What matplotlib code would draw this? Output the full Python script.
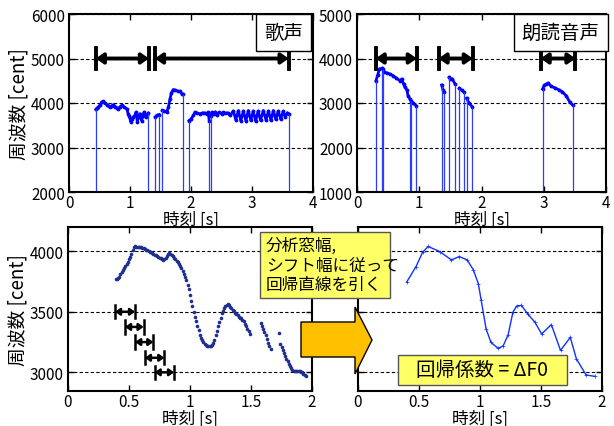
import numpy as np
import matplotlib
matplotlib.use("Agg")
import matplotlib.pyplot as plt
from matplotlib.patches import Rectangle, Polygon

plt.rcParams['font.family'] = ['Noto Sans CJK JP', 'DejaVu Sans']

# 歌声 F0 (有声区間ごと)
sing_t = [
    [0.44, 0.46, 0.48, 0.51, 0.535, 0.56, 0.59, 0.62, 0.65, 0.67, 0.70, 0.726, 0.76, 0.79, 0.81,
     0.84, 0.865, 0.90, 0.945, 0.97, 0.99, 1.01, 1.03, 1.05, 1.08, 1.10, 1.12, 1.14, 1.16, 1.19,
     1.21, 1.23, 1.26, 1.28, 1.30],
    [1.415, 1.44, 1.48],
    [1.53, 1.56, 1.60, 1.63, 1.656, 1.68, 1.71, 1.74, 1.79, 1.82, 1.845, 1.87],
    [1.967, 2.0, 2.04, 2.065, 2.10, 2.15, 2.19, 2.23, 2.26, 2.28, 2.30],
    [2.32, 2.34, 2.37, 2.40, 2.43, 2.46, 2.50, 2.53, 2.56, 2.60, 2.64, 2.694, 2.735, 2.776, 2.817,
     2.858, 2.90, 2.94, 2.98, 3.02, 3.06, 3.10, 3.14, 3.185, 3.23, 3.27, 3.31, 3.35, 3.39, 3.43,
     3.47, 3.51, 3.545, 3.58, 3.60],
]
sing_f = [
    [3856, 3880, 3909, 3960, 4023, 4036, 4000, 3962, 3930, 3909, 3935, 3962, 3920, 3880, 3871,
     3920, 3947, 3909, 3871, 3760, 3700, 3583, 3640, 3682, 3720, 3795, 3583, 3690, 3757, 3605,
     3700, 3795, 3682, 3740, 3773],
    [3690, 3720, 3740],
    [3832, 3820, 3795, 3900, 4098, 4230, 4302, 4290, 4264, 4260, 4212, 4200],
    [3605, 3640, 3720, 3795, 3770, 3757, 3780, 3773, 3760, 3790, 3600],
    [3700, 3790, 3760, 3800, 3740, 3790, 3760, 3790, 3770, 3780, 3720, 3820, 3620, 3830, 3600,
     3820, 3600, 3830, 3610, 3820, 3590, 3820, 3610, 3830, 3620, 3820, 3610, 3830, 3630, 3820,
     3640, 3810, 3680, 3780, 3760],
]
sing_win = [(0.44, 1.31), (1.41, 3.60)]

# 朗読音声 F0
read_t = [
    [0.305, 0.33, 0.36, 0.40],
    [0.41, 0.44, 0.48, 0.53, 0.58, 0.63, 0.69, 0.72, 0.75, 0.77, 0.80, 0.82, 0.85],
    [0.87, 0.90, 0.95],
    [1.36, 1.38, 1.40],
    [1.48, 1.50, 1.53, 1.575],
    [1.645, 1.68, 1.72],
    [1.76, 1.80, 1.85],
    [2.98, 3.01, 3.04, 3.07, 3.12, 3.18, 3.24, 3.30, 3.36, 3.42, 3.465],
]
read_f = [
    [3501, 3620, 3764, 3779],
    [3760, 3700, 3674, 3650, 3614, 3560, 3501, 3539, 3420, 3352, 3300, 3164, 3090],
    [3052, 3000, 2940],
    [3404, 3300, 3240],
    [3577, 3550, 3539, 3427],
    [3330, 3290, 3240],
    [3106, 3000, 2917],
    [3315, 3400, 3427, 3449, 3375, 3340, 3299, 3250, 3164, 3015, 2955],
]
read_win = [(0.30, 0.96), (1.31, 1.86), (2.95, 3.51)]

# 拡大した F0 (0.01 s ごと)
dot_start = [0.39, 1.58, 1.73]
dot_f = [
    [3770, 3772, 3778, 3790, 3810, 3828, 3845, 3862, 3880, 3898, 3915, 3935, 3955, 3980, 4010,
     4035, 4040, 4038, 4036, 4035, 4034, 4032, 4030, 4026, 4020, 4014, 4008, 4002, 3996, 3990,
     3984, 3978, 3972, 3966, 3960, 3954, 3948, 3942, 3936, 3930, 3935, 3948, 3962, 3975, 3982,
     3978, 3968, 3958, 3948, 3936, 3922, 3908, 3892, 3876, 3860, 3840, 3815, 3790, 3760, 3725,
     3685, 3640, 3590, 3545, 3500, 3460, 3420, 3385, 3350, 3310, 3285, 3265, 3250, 3238, 3228,
     3220, 3216, 3215, 3216, 3222, 3240, 3270, 3310, 3345, 3380, 3415, 3450, 3490, 3510, 3528,
     3545, 3558, 3562, 3555, 3543, 3530, 3518, 3505, 3493, 3482, 3470, 3460, 3452, 3445, 3435,
     3420, 3400, 3380, 3360, 3340, 3320],
    [3410, 3385, 3360, 3335, 3305, 3275, 3245, 3215, 3190],
    [3325, 3235, 3210, 3185, 3160, 3135, 3110, 3090, 3070, 3050, 3035, 3022, 3012, 3008, 3007,
     3008, 3010, 3008, 3005, 3000, 2990, 2980, 2972],
]
win_left = [0.385, 0.467, 0.55, 0.63, 0.71]
win_right = [0.55, 0.62, 0.70, 0.79, 0.87]
win_y = [3500, 3375, 3250, 3120, 3000]

# 回帰直線
reg_t = [0.40, 0.475, 0.53, 0.575, 0.67, 0.766, 0.83, 0.895, 0.945, 0.986, 1.01, 1.05, 1.09,
         1.15, 1.19, 1.23, 1.27, 1.30, 1.34, 1.39, 1.45, 1.505, 1.585, 1.66, 1.74, 1.79, 1.87, 1.94]
reg_f = [3747, 3872, 3992, 4039, 3997, 3928, 3956, 3928, 3847, 3733, 3594, 3358, 3247, 3197,
         3219, 3308, 3497, 3547, 3553, 3483, 3414, 3317, 3394, 3181, 3289, 3111, 2978, 2967]

W, H = 614, 427
fig = plt.figure(figsize=(W / 100, H / 100), dpi=100)


def box(l, t, r, b):
    return [l / W, 1 - b / H, (r - l) / W, (b - t) / H]


def style(ax, ylabel=True):
    for s in ax.spines.values():
        s.set_linewidth(1.5)
    ax.tick_params(direction='in', top=True, right=True, length=4, width=1,
                   labelsize=11, pad=1.5)
    ax.tick_params(axis='y', pad=3)
    ax.yaxis.grid(True, ls='--', color='k', lw=0.8, dashes=(3, 2))
    ax.set_xlabel('時刻 [s]', fontsize=12, labelpad=0)
    if ylabel:
        ax.set_ylabel('周波数 [cent]', fontsize=13.5, labelpad=1)


def win_arrow(ax, x0, x1, y, cap, lw, hw):
    ax.annotate('', xy=(x1, y), xytext=(x0, y),
                arrowprops=dict(arrowstyle=f'<|-|>,head_length={hw*1.4},head_width={hw}',
                                color='k', lw=lw, shrinkA=0, shrinkB=0))
    ax.plot([x0, x0], [y - cap, y + cap], color='k', lw=lw)
    ax.plot([x1, x1], [y - cap, y + cap], color='k', lw=lw)


def f0_plot(ax, ts, fs, bottom):
    for t, f in zip(ts, fs):
        ax.plot(t, f, color='#0000ff', lw=2.0, marker='.', ms=3.5)
        ax.vlines([t[0], t[-1]], bottom, [f[0], f[-1]], color='#2a3cff', lw=0.9)


# 上左: 歌声
ax1 = fig.add_axes(box(69, 15, 313, 193))
f0_plot(ax1, sing_t, sing_f, 2000)
for x0, x1 in sing_win:
    win_arrow(ax1, x0, x1, 5000, 240, 2.8, 0.3)
ax1.set_xlim(0, 4)
ax1.set_ylim(2000, 6000)
ax1.set_xticks([0, 1, 2, 3, 4])
ax1.set_yticks([2000, 3000, 4000, 5000, 6000])
style(ax1)
ax1.text(0.96, 0.895, '歌声', transform=ax1.transAxes, ha='right', va='center', fontsize=14,
         bbox=dict(boxstyle='square,pad=0.4', fc='white', ec='k', lw=1))

# 上右: 朗読音声
ax2 = fig.add_axes(box(357, 15, 606, 193))
f0_plot(ax2, read_t, read_f, 1000)
for x0, x1 in read_win:
    win_arrow(ax2, x0, x1, 4000, 240, 2.8, 0.3)
ax2.set_xlim(0, 4)
ax2.set_ylim(1000, 5000)
ax2.set_xticks([0, 1, 2, 3, 4])
ax2.set_yticks([1000, 2000, 3000, 4000, 5000])
style(ax2, ylabel=False)
ax2.text(0.975, 0.895, '朗読音声', transform=ax2.transAxes, ha='right', va='center', fontsize=14,
         bbox=dict(boxstyle='square,pad=0.4', fc='white', ec='k', lw=1))

# 下左: 拡大
ax3 = fig.add_axes(box(68, 228, 312, 391.5))
for t0, f in zip(dot_start, dot_f):
    t = t0 + 0.01 * np.arange(len(f))
    ax3.plot(t, f, ls='none', marker='o', ms=2.6, color='#1f2f8f', mec='none')
for x0, x1, y in zip(win_left, win_right, win_y):
    win_arrow(ax3, x0, x1, y, 55, 1.8, 0.2)
ax3.set_xlim(0, 2)
ax3.set_ylim(2850, 4200)
ax3.set_xticks([0, 0.5, 1, 1.5, 2])
ax3.set_xticklabels(['0', '0.5', '1', '1.5', '2'])
ax3.set_yticks([3000, 3500, 4000])
style(ax3)

# 下右: 回帰直線
ax4 = fig.add_axes(box(358, 228, 602, 391.5))
ax4.plot(reg_t, reg_f, color='#1030ff', lw=1.0, marker='+', ms=3, mew=0.5)
ax4.set_xlim(0, 2)
ax4.set_ylim(2850, 4200)
ax4.set_xticks([0, 0.5, 1, 1.5, 2])
ax4.set_xticklabels(['0', '0.5', '1', '1.5', '2'])
ax4.set_yticks([3000, 3500, 4000])
ax4.set_yticklabels([])
style(ax4, ylabel=False)

# 説明ボックス
fig.patches.append(Rectangle((260 / W, 1 - 299 / H), 130 / W, 66 / H, transform=fig.transFigure,
                             fc='#ffff66', ec='#555555', lw=1, zorder=5))
fig.text(266 / W, 1 - 266 / H, '分析窓幅,\nシフト幅に従って\n回帰直線を引く', fontsize=12,
         ha='left', va='center', linespacing=1.2, zorder=6)

# 矢印
arrow_px = [(301, 323), (355, 323), (355, 308), (372, 341), (355, 375), (355, 358), (301, 358)]
fig.patches.append(Polygon([(x / W, 1 - y / H) for x, y in arrow_px], closed=True,
                           transform=fig.transFigure, fc='#ffc000', ec='k', lw=1, zorder=5))

# 回帰係数
fig.patches.append(Rectangle((398 / W, 1 - 386 / H), 169 / W, 30 / H, transform=fig.transFigure,
                             fc='#ffff66', ec='#555555', lw=1, zorder=5))
fig.text(482 / W, 1 - 371 / H, '回帰係数 = ΔF0', fontsize=14, ha='center', va='center', zorder=6)

fig.savefig('out.png', dpi=100)
